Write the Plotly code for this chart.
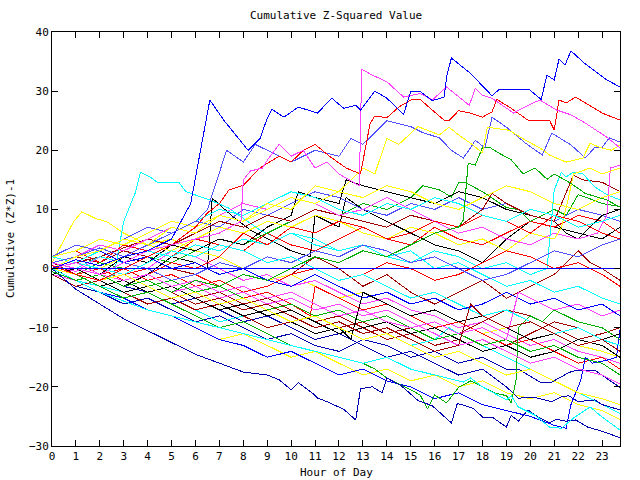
import plotly.graph_objects as go

x_tick_vals = list(range(0, 24))
y_tick_vals = [-30, -20, -10, 0, 10, 20, 30, 40]

# ---- series: (hour, cumulative value) vertices ----
s_blue_top = [(0,0),(1,1.5),(2,0.5),(3,2),(4,3),(5,5),(5.8,11),(6.2,20),(6.6,28.5),(7.2,25),(8.2,20),(8.7,22),(9.0,25.4),(9.2,26.9),(9.7,25.6),(10.3,27.3),(11.1,26.3),(11.7,28.8),(12.2,27.1),(12.7,27.6),(12.9,26.8),(13.5,30),(14.0,28.8),(14.7,26.1),(15.0,29.9),(15.4,29.9),(15.9,28.4),(16.4,29.0),(16.5,32.4),(16.7,35.6),(17.5,33),(18.4,29.2),(18.7,30.3),(19.95,30.3),(20.45,28.6),(20.7,32.7),(21.0,31.9),(21.2,35.4),(21.45,34.4),(21.7,36.8),(22.3,34.6),(23.2,31.9),(23.75,30.7)]
s_mag_top = [(0,1),(1,0),(2,-1),(3,1),(4,3),(5,4),(6,5),(7,6),(7.9,8),(8.0,15),(8.3,16.5),(8.8,17),(9,18.3),(9.5,21),(10,19),(10.5,20),(11,17),(11.5,18),(12,16),(12.85,14),(12.95,33.7),(13.4,32.7),(14,31.6),(14.7,29),(15.4,29.6),(15.9,28.5),(16.5,30.7),(17.45,27.6),(17.7,30.5),(18,29.3),(18.4,28.8),(19.3,26.3),(19.9,27.6),(20.4,28.5),(21.1,26.8),(21.7,26),(22.3,24.6),(23.2,22.2),(23.75,20.4)]
s_red_top = [(0,0.5),(1,-1),(2,-2),(3,0),(4,2),(5,4),(6,7),(6.5,9.4),(7,11),(7.4,13.3),(8,14.1),(8.7,17),(9,17.8),(9.5,19),(10,18),(10.5,20),(11,21),(11.6,19),(12.3,17),(12.9,16),(13.3,24.5),(13.5,25.8),(14,25.5),(14.5,27.3),(15,28.5),(15.4,28.6),(15.9,26.8),(16.4,25.1),(16.6,25),(17,26.7),(17.5,26.3),(18,25.6),(18.4,26.5),(18.6,28.6),(19.2,27.1),(19.9,25.1),(20.8,25.1),(21.0,23.4),(21.2,28.5),(21.5,28),(21.9,29),(22.6,27.3),(23,26.3),(23.75,25.1)]
s_yel_top = [(0,0),(1,2),(2,3),(3,5),(4,4),(5,7),(6,6),(7,9),(8,8),(9,11),(10,10),(11,14),(12,13),(13,17),(13.5,16),(14,22),(14.5,21),(15.3,24),(16.2,22.6),(16.6,23.9),(17,22.6),(17.6,20.9),(18,19.5),(18.2,23.9),(19.1,23.4),(19.8,21.7),(20.4,20.4),(20.8,19.2),(21.5,18),(22.2,18.7),(22.5,21.2),(22.9,20.5),(23.4,20),(23.75,20.9)]
s_slate_top = [(0,1),(1,2),(2,3.5),(3,2),(4,4),(5,6),(6,8),(6.5,10),(7,16),(7.3,20),(8,18),(8.5,21),(9,20),(10,18),(11,20),(12,19),(12.5,22),(13,21),(14,25),(15,24),(15.5,23),(16.2,22.1),(16.7,20),(17.2,18.7),(17.5,20.4),(17.7,21.7),(18.1,20.4),(18.4,25.6),(19,23.9),(19.8,21.2),(20.5,19.2),(20.9,22.9),(21.7,20.9),(22.3,18.7),(22.7,20.5),(23,20.5),(23.3,22.1),(23.75,21.4)]
s_green_jump = [(0,-0.5),(1,-2),(2,-1),(3,-3),(4,-2),(5,-4),(6,-2),(7,-3),(8,-1),(9,-2),(10,0),(11,2),(12,1),(13,3),(14,2),(15,4),(16,6),(17,7),(17.2,8.2),(17.4,17.8),(17.7,17.5),(18,20.5),(18.3,20.5),(18.7,19.5),(19.2,18.4),(19.7,16),(20.2,17),(20.7,15.1),(21,16),(21.7,14.4),(22.3,12.7),(23.2,11.6),(23.75,10.4)]
s_navy_bottom = [(0,0),(1,-3.5),(2,-6),(3,-8.5),(4,-10.5),(5,-12.5),(6,-14.5),(7,-16),(8,-17.5),(9,-18),(9.5,-18.8),(10,-20.5),(10.3,-19.3),(10.9,-21.1),(11.1,-21.9),(11.5,-22.5),(12.2,-23.8),(12.7,-25.6),(12.9,-20.3),(13.4,-20),(13.8,-21),(14.0,-18.5),(14.6,-19.8),(15.3,-22.3),(15.9,-23.2),(16.7,-26.1),(16.95,-22.8),(17.6,-23.6),(18,-25.1),(18.4,-25.1),(19,-26.8),(19.2,-24.8),(19.5,-25.8),(19.9,-23.9),(20.2,-24.8),(20.8,-26.1),(21.1,-25.5),(21.5,-25.8),(21.9,-25.6),(22.4,-26.8),(23,-27.5),(23.75,-28.6)]
s_cyan_bottom = [(0,0),(2,-4),(4,-7),(6,-9),(8,-11),(10,-13),(12,-15),(13,-16),(14,-15),(15,-17),(16,-18),(17.2,-19.2),(17.5,-18.5),(18,-20),(19,-22.2),(19.2,-21.5),(19.5,-23.4),(20.2,-24.8),(20.8,-26.8),(21.3,-27),(21.8,-25.3),(22.5,-23.4),(23,-25.1),(23.75,-27.3)]
s_m01 = [(0,0),(1,2),(2,1),(3,3),(4,2),(5,0),(6,-1),(7,1),(8,0),(9,-2),(10,-1),(11,2),(12,0),(13,-3),(14,-1),(15,-4),(16,-6),(17,-4),(18,-2),(19,-5),(20,-3),(21,-1),(22,3),(22.5,1),(23,0),(23.75,-2)]
s_m02 = [(0,-1),(1,-2),(2,-1),(3,-3),(4,-1),(5,2),(6,1),(6.5,0),(6.7,11.9),(7.5,9),(8.3,6.5),(9,5),(10,3),(10.8,2),(11,9),(11.5,8),(12,7),(12.3,12),(13,10),(14,8),(15,6),(16,4),(17,3),(18,1),(19,5),(20,8),(21,7),(22,6),(23,5),(23.75,7)]
s_m03 = [(0,1),(0.9,7.9),(1.25,9.6),(1.8,8.5),(2.3,7.9),(3,6),(4,4),(5,5),(6,3),(7,2),(8,0),(9,-2),(10,-1),(11,-3),(12,-5),(13,-4),(14,-6),(15,-8),(16,-7),(17,-9),(18,-11),(19,-10),(20,-12),(21,-11),(22,-13),(23,-14),(23.75,-15)]
s_m04 = [(0,0),(1,-1),(2,-2),(2.6,-1),(3,8),(3.5,13),(3.7,16.3),(4.1,15.5),(4.4,14.6),(5.3,14.6),(5.6,13),(6.6,11.6),(7.4,10.2),(8.1,8.2),(8.7,6.5),(9.5,5),(10,6),(11,4),(12,3),(13,4),(14,2),(15,3),(16,0),(17,1),(18,-1),(19,-3),(20,-2),(21,-4),(22,-3),(23,-5),(23.75,-6)]
s_m05 = [(0,2),(1,3),(2,1),(3,4),(4,3),(5,2),(6,5),(7,4),(8,3),(9,6),(10,4),(11,3),(12,5),(13,7),(14,5),(15,4),(16,7),(17,5),(18,4),(19,6),(20,8),(21,7),(22,9),(23,8),(23.75,6)]
s_m06 = [(0,0),(1,-1),(2,1),(3,0),(4,2),(5,1),(6,3),(7,5),(8,4),(9,6),(10,8),(11,10),(12,9),(13,11),(14,10),(15,12),(15.5,14),(16.2,13.3),(16.7,12.1),(17,14.5),(17.3,14.5),(18,13),(19,10.3),(19.5,10),(20,8),(21,10),(21.5,9),(22,12.5),(22.3,12.1),(23,11),(23.75,10.5)]
s_m07 = [(0,-1),(1,-3),(2,-4),(3,-6),(4,-5),(5,-7),(6,-9),(7,-8),(8,-10),(9,-12),(10,-11),(11,-13),(12,-14),(13,-12),(14,-13),(15,-15),(16,-14),(17,-16),(18,-15),(19,-17),(19.5,-17),(20.4,-19.2),(20.9,-19.2),(21.3,-18.3),(21.6,-17.6),(21.9,-17.2),(22.7,-17.2),(23.75,-20.1)]
s_m08 = [(0,0.5),(1,-0.5),(2,2),(3,1),(4,0),(5,3),(6,2),(7,0),(8,-2),(9,-1),(10,-3),(11,-2),(12,-4),(13,-6),(14,-5),(15,-7),(16,-8),(17,-10),(18,-9),(19,-11),(20,-13),(21,-12),(22,-14),(23,-15),(23.75,-16)]
s_m09 = [(0,1),(1,-1),(2,-3),(3,-2),(4,-4),(5,-3),(6,-5),(7,-4),(8,-6),(9,-5),(10,-7),(11,-9),(12,-8),(13,-10),(14,-12),(15,-11),(16,-13),(17,-12),(18,-14),(19,-13),(20,-11),(21,-9),(22,-10),(23,-12),(23.75,-13)]
s_m10 = [(0,2),(1,4),(2,3),(3,5),(4,7),(5,6),(6,8),(7,7),(8,10),(9,9),(10,11),(11,13),(12,12),(13,10),(14,9),(15,11),(16,10),(17,12),(18,10),(19,11),(20,9),(21,8),(22,10),(23,9),(23.75,8)]
s_m11 = [(0,0),(1,-2),(2,-3),(3,-5),(4,-7),(5,-8),(6,-10),(7,-12),(8,-11),(9,-13),(10,-15),(11,-14),(12,-16),(13,-18),(14,-17),(15,-19),(16,-18),(17,-20),(18,-19),(19,-21),(20,-22),(21,-21),(22,-23),(23,-24),(23.75,-25.5)]
s_m12 = [(0,0),(1,1),(2,-1),(3,2),(4,1),(5,4),(6,3),(7,5),(8,4),(9,7),(10,9),(10.3,13),(11,12),(12,11),(12.3,15),(13,14),(14,13),(15,12),(16,11),(17,13),(18,12),(19,10),(20,9),(21,8),(21.5,6),(22,5),(23,9),(23.75,10)]
s_m13 = [(0,1),(1,0),(2,-2),(3,-1),(4,0),(5,-2),(6,-1),(7,-3),(8,-5),(9,-4),(10,-6),(10.8,-8),(11,-3),(12,-5),(13,-7),(14,-6),(15,-8),(16,-10),(17,-9),(18,-11),(19,-13),(20,-12),(21,-14),(22,-16),(23,-15),(23.75,-17)]
s_m16 = [(0,-0.5),(1,-2),(2,-3),(3,-4),(4,-6),(5,-5),(6,-7),(7,-9),(8,-8),(9,-10),(10,-9),(11,-11),(12,-10),(13,-12),(14,-11),(15,-13),(16,-12),(16.6,-10),(17,-11),(18,-13),(19,-15),(20,-17),(21,-19),(22,-21),(23,-23),(23.75,-24.5)]
s_m17 = [(0,0),(2,2),(4,5),(5,4),(6,6),(7,8),(8,7),(9,9),(10,8),(11,10),(12,9),(13,8),(14,7),(15,9),(16,8),(17,7),(18,10),(18.4,12.7),(19,11),(20,9),(21,8),(21.5,13),(21.8,15.8),(22.2,15),(23,14.6),(23.75,13)]
s_m18 = [(0,0),(1,2),(2,4),(3,3),(4,5),(5,7),(6,6),(7,9),(8,11),(9,10),(10,12),(11,11),(12,9),(13,10),(14,12),(15,10),(16,8),(17,6),(18,7),(19,5),(20,4),(21,6),(22,5),(22.8,6),(23.2,9),(23.35,17),(23.75,17.5)]
s_m19 = [(0,1),(1,0),(2,2),(3,1),(4,3),(5,2),(6,4),(7,3),(8,5),(9,4),(10,6),(11,5),(12,3),(13,4),(14,2),(15,1),(16,3),(17,2),(18,0),(19,1),(20,-1),(20.7,0),(21,13.3),(21.3,16.3),(21.5,15.5),(21.8,16.3),(22.2,16),(22.7,13.8),(23.2,12.5),(23.75,11.6)]
s_m20 = [(0,0),(1,1),(2,0),(3,2),(4,4),(5,3),(6,5),(7,7),(8,6),(9,8),(10,7),(11,9),(12,8),(13,6),(14,5),(15,7),(16,6),(17,4),(18,5),(19,3),(20,6),(21,5),(21.3,7),(21.6,12),(21.8,16),(22.5,17),(23,16),(23.75,17)]
s_m21 = [(0,0),(1,-2),(2,-1),(3,-3),(4,-4),(5,-6),(6,-5),(7,-7),(8,-9),(9,-8),(10,-10),(11,-12),(12,-11),(13,-13),(14,-15),(15,-14),(16,-16),(17,-18),(18,-17),(19,-20),(19.5,-21.9),(20.2,-21.8),(20.9,-22.5),(21.3,-21.7),(21.6,-21.5),(22,-22.5),(22.7,-22.2),(23,-23),(23.75,-23.9)]
s_m22 = [(0,-1),(1,-2),(2,-4),(3,-5),(4,-7),(5,-8),(6,-10),(7,-12),(8,-13),(9,-15),(10,-14),(11,-16),(12,-18),(13,-17),(14,-19),(15,-20),(16,-22),(17,-21),(18,-23),(19,-24),(20,-25),(21,-26.5),(21.5,-27),(21.7,-23),(21.9,-21),(22.1,-19),(22.3,-15),(22.6,-16),(23.2,-15.5),(23.6,-15),(23.75,-10.4)]
s_m23 = [(0,0),(1,1),(2,-1),(3,0),(4,-2),(5,-1),(6,-3),(7,-2),(8,-4),(9,-3),(10,-1),(11,0),(12,-2),(13,-1),(14,1),(15,0),(16,-2),(17,-1),(18,1),(19,3),(20,2),(21,0),(22,1),(23,-1),(23.75,-3)]
s_m24 = [(0,-1),(1,-3),(2,-2),(3,-4),(4,-6),(5,-5),(6,-7),(7,-6),(8,-8),(9,-10),(10,-9),(11,-8),(12,-10),(13,-9),(14,-11),(15,-10),(16,-12),(17,-11),(18,-9),(19,-7),(20,-8),(21,-10),(22,-12),(23,-11),(23.75,-10)]
s_m25 = [(0,0),(1,-1),(2,-3),(3,-2),(4,-4),(5,-3),(6,-5),(7,-7),(8,-6),(9,-8),(10,-7),(11,-9),(12,-11),(13,-10),(14,-9),(15,-11),(16,-10),(17,-12),(18,-14),(19,-13),(20,-15),(21,-14),(22,-12),(23,-13),(23.75,-15)]
s_m26 = [(0,1),(1,0),(2,-1),(3,1),(4,0),(5,-2),(6,-1),(7,1),(8,0),(9,2),(10,1),(11,3),(12,2),(13,4),(14,3),(15,1),(16,2),(17,0),(18,-2),(19,-1),(20,1),(21,3),(22,2),(23,4),(23.75,5)]
s_m27 = [(0,0),(1,-1),(2,-3),(3,-5),(4,-4),(5,-6),(6,-8),(7,-10),(8,-9),(9,-11),(10,-13),(11,-14),(12,-15),(13,-16),(13.5,-17),(14,-18.5),(15,-20.5),(15.4,-21.4),(15.7,-23.7),(16,-21.4),(16.5,-22.7),(17,-20.1),(17.5,-19),(18,-20),(18.5,-21),(19,-21.5),(19.2,-22.7),(19.4,-19),(19.5,-10),(20,-8),(20.5,-9),(21,-7),(22,-9),(23,-10),(23.75,-12)]
s_m28 = [(0,2),(1,3),(2,5),(3,4),(4,6),(5,8),(6,7),(7,9),(8,8),(9,10),(10,12),(11,11),(12,13),(13,12),(14,14),(15,13),(16,11),(17,10),(18,12),(19,14),(20,13),(21,11),(22,10),(23,12),(23.75,13)]
s_m29 = [(0,-1),(1,-2),(2,-1),(3,-3),(4,-2),(5,-4),(6,-3),(7,-5),(8,-4),(9,-6),(10,-5),(11,-7),(12,-6),(13,-8),(14,-7),(15,-9),(16,-11),(17,-13),(18,-12),(19,-14),(20,-16),(21,-15),(22,-17),(23,-18),(23.75,-19.5)]
s_m30 = [(0,0),(1,1),(2,0),(3,-1),(4,1),(5,3),(6,2),(7,4),(8,3),(9,1),(10,2),(11,0),(12,-2),(13,-1),(14,-3),(15,-5),(16,-4),(17,-6),(18,-8),(19,-7),(20,-9),(21,-11),(22,-10),(23,-12),(23.75,-13)]
s_m31 = [(0,0),(1,-1),(2,0),(3,-2),(4,-1),(5,1),(6,0),(7,2),(8,6),(8.5,5),(9,4),(10,7),(11,6),(12,8),(13,7),(14,5),(15,6),(16,8),(17,7),(18,9),(19,8),(20,6),(21,9),(22,8),(23,6),(23.75,5)]
s_m32 = [(0,1),(1,0),(2,-2),(3,-1),(4,-3),(5,-2),(6,-4),(7,-3),(8,-5),(9,-7),(10,-6),(11,-8),(12,-7),(13,-9),(14,-8),(15,-10),(16,-12),(17,-11),(18,-13),(19,-12),(20,-14),(21,-13),(22,-15),(23,-16),(23.75,-18)]
s_m33 = [(0,0),(1,2),(2,3),(3,1),(4,2),(5,0),(6,1),(7,-1),(8,0),(9,-2),(10,-3),(11,-1),(12,-3),(13,-5),(14,-4),(15,-6),(16,-5),(17,-7),(18,-6),(19,-4),(20,-6),(21,-5),(22,-7),(23,-6),(23.75,-8)]
s_m34 = [(0,-1),(1,0),(2,-2),(3,-4),(4,-3),(5,-5),(6,-4),(7,-6),(8,-8),(9,-7),(10,-9),(11,-11),(12,-10),(12.5,-12),(13,-4),(14,-6),(15,-8),(16,-7),(17,-9),(18,-8),(19,-10),(20,-12),(21,-11),(22,-13),(23,-12),(23.75,-11)]
s_m35 = [(0,2),(1,1),(2,3),(3,5),(4,4),(5,6),(6,8),(7,10),(8,9),(9,11),(10,13),(11,12),(12,10),(13,9),(14,11),(15,10),(16,12),(17,11),(18,9),(19,8),(20,10),(21,9),(22,7),(23,8),(23.75,9)]
s_m36 = [(0,0),(1,1),(2,-1),(3,-2),(4,-1),(5,-3),(6,-2),(7,-4),(8,-3),(9,-5),(10,-4),(11,-6),(12,-8),(13,-7),(14,-9),(15,-10),(16,-9),(17,-11),(18,-10),(19,-12),(19.5,-4),(20,-5),(21,-7),(22,-6),(23,-8),(23.75,-7)]
s_m37 = [(0,0),(1,-2),(2,-1),(3,-3),(4,-2),(5,-4),(6,-6),(7,-5),(8,-7),(9,-6),(10,-8),(11,-10),(12,-9),(13,-11),(14,-10),(15,-12),(16,-14),(17,-13),(17.5,-6),(18,-8),(19,-10),(20,-9),(21,-11),(22,-13),(23,-12),(23.75,-14)]
s_m38 = [(0,0),(1,-1),(2,-2),(3,-1),(4,-3),(5,-5),(6,-4),(7,-6),(8,-5),(9,-7),(10,-9),(11,-8),(12,-10),(13,-12),(14,-11),(15,-13),(16,-15),(17,-14),(18,-16),(19,-18),(20,-17),(21,-19),(22,-21),(23,-22),(23.75,-23)]
s_zero = [(0,0),(23.75,0)]

RED, GREEN, BLUE, MAG, CYAN, DRED, YEL, BLK, SLATE, NAVY = (
    "#ff0000", "#00b000", "#0000ff", "#ff40ff", "#00ffff",
    "#a00000", "#ffff00", "#000000", "#5050ff", "#0000b0")

series = [
    (s_m01, DRED), (s_m02, BLK), (s_m03, YEL), (s_m04, CYAN), (s_m05, RED),
    (s_m06, GREEN), (s_m07, NAVY), (s_m08, MAG), (s_m09, DRED), (s_m10, SLATE),
    (s_m11, YEL), (s_m12, BLK), (s_m13, RED), (s_m16, CYAN), (s_m17, DRED),
    (s_m18, MAG), (s_m19, CYAN), (s_m20, YEL), (s_m21, NAVY), (s_m22, BLUE),
    (s_m23, RED), (s_m24, DRED), (s_m25, BLK), (s_m26, SLATE), (s_m27, GREEN),
    (s_m28, YEL), (s_m29, MAG), (s_m30, CYAN), (s_m31, RED), (s_m32, GREEN),
    (s_m33, BLUE), (s_m34, BLK), (s_m35, CYAN), (s_m36, MAG), (s_m37, DRED),
    (s_m38, YEL),
    (s_navy_bottom, NAVY), (s_cyan_bottom, CYAN), (s_green_jump, GREEN),
    (s_slate_top, SLATE), (s_yel_top, YEL), (s_red_top, RED),
    (s_mag_top, MAG), (s_blue_top, BLUE), (s_zero, BLUE),
]

fig = go.Figure()
for pts, col in series:
    fig.add_trace(go.Scatter(x=[p[0] for p in pts], y=[p[1] for p in pts],
                             mode="lines", line=dict(color=col, width=1),
                             hoverinfo="skip"))

FONT = "DejaVu Sans Mono"
axis_common = dict(ticks="inside", ticklen=6, tickwidth=1, tickcolor="black",
                   showline=True, linecolor="black", linewidth=1, mirror="ticks",
                   showgrid=False, zeroline=False,
                   tickfont=dict(family=FONT, size=11, color="black"))
pw, ph = 640 - 52 - 20, 480 - 32 - 34
fig.update_layout(
    width=640, height=480,
    margin=dict(l=52, r=20, t=32, b=34),
    paper_bgcolor="white", plot_bgcolor="white", showlegend=False,
    xaxis=dict(range=[0, 23.75], tickvals=x_tick_vals, **axis_common),
    yaxis=dict(range=[-30, 40], tickvals=y_tick_vals, **axis_common),
    annotations=[
        dict(text="Cumulative Z-Squared Value", x=0.5, y=1 + (32 - 15) / ph,
             xref="paper", yref="paper", yanchor="middle",
             showarrow=False, font=dict(family=FONT, size=11, color="black")),
        dict(text="Hour of Day", x=0.5, y=-(472 - 446) / ph,
             xref="paper", yref="paper", yanchor="middle",
             showarrow=False, font=dict(family=FONT, size=11, color="black")),
        dict(text="Cumulative (Z*Z)-1", x=-(52 - 10) / pw, y=0.5,
             xref="paper", yref="paper", xanchor="center",
             textangle=-90, showarrow=False, font=dict(family=FONT, size=11, color="black")),
    ],
)
crisp = ("document.querySelectorAll('.scatterlayer path, .xlines-above, .ylines-above, .xtick, .ytick')"
         ".forEach(function(p){p.style.shapeRendering='crispEdges';});")
fig.write_html("out.html", post_script=crisp)
